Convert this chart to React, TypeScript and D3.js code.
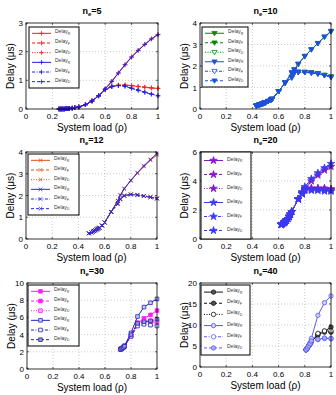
import React from 'react';
import * as d3 from 'd3';

// system load (x) and delays in µs; A = coloured group, B = blue group
const load5 = [0.25, 0.26, 0.27, 0.28, 0.29, 0.3, 0.31, 0.32, 0.33, 0.35, 0.37, 0.4, 0.45, 0.5, 0.55, 0.6, 0.65, 0.7, 0.75, 0.8, 0.85, 0.9, 0.95, 1];
const r5A = [0, 0, 0, 0, 0, 0.01, 0.01, 0.01, 0.02, 0.03, 0.05, 0.07, 0.15, 0.28, 0.46, 0.7, 0.97, 1.26, 1.55, 1.82, 2.05, 2.26, 2.45, 2.6];
const f5A = [0, 0, 0, 0, 0, 0.01, 0.01, 0.01, 0.02, 0.03, 0.05, 0.07, 0.15, 0.28, 0.46, 0.68, 0.8, 0.83, 0.83, 0.82, 0.79, 0.76, 0.73, 0.72];
const d5A = [0, 0, 0, 0, 0, 0.01, 0.01, 0.01, 0.02, 0.03, 0.05, 0.07, 0.15, 0.28, 0.46, 0.68, 0.79, 0.83, 0.84, 0.81, 0.78, 0.76, 0.74, 0.72];
const r5B = [0, 0, 0, 0, 0, 0.01, 0.01, 0.01, 0.02, 0.03, 0.05, 0.07, 0.15, 0.28, 0.46, 0.7, 0.96, 1.25, 1.54, 1.81, 2.04, 2.25, 2.44, 2.59];
const f5B = [0, 0, 0, 0, 0, 0.01, 0.01, 0.01, 0.02, 0.03, 0.05, 0.07, 0.15, 0.28, 0.46, 0.68, 0.78, 0.82, 0.8, 0.73, 0.66, 0.59, 0.52, 0.46];
const d5B = [0, 0, 0, 0, 0, 0.01, 0.01, 0.01, 0.02, 0.03, 0.05, 0.07, 0.15, 0.28, 0.46, 0.68, 0.78, 0.82, 0.79, 0.72, 0.65, 0.58, 0.52, 0.46];

const load10 = [0.43, 0.44, 0.45, 0.46, 0.47, 0.48, 0.49, 0.5, 0.52, 0.54, 0.55, 0.6, 0.65, 0.7, 0.72, 0.75, 0.8, 0.85, 0.9, 0.95, 1];
const r10A = [0.15, 0.17, 0.19, 0.21, 0.23, 0.25, 0.28, 0.3, 0.36, 0.42, 0.46, 0.82, 1.22, 1.68, 1.82, 2.08, 2.45, 2.76, 3.05, 3.35, 3.6];
const f10A = [0.15, 0.17, 0.19, 0.21, 0.23, 0.25, 0.28, 0.3, 0.36, 0.42, 0.46, 0.82, 1.22, 1.5, 1.7, 1.72, 1.72, 1.7, 1.66, 1.58, 1.5];
const d10A = [0.15, 0.17, 0.19, 0.21, 0.23, 0.25, 0.28, 0.3, 0.36, 0.42, 0.46, 0.82, 1.22, 1.48, 1.69, 1.72, 1.71, 1.69, 1.65, 1.57, 1.5];
const r10B = [0.15, 0.17, 0.19, 0.21, 0.23, 0.25, 0.28, 0.3, 0.36, 0.42, 0.46, 0.82, 1.22, 1.7, 1.84, 2.1, 2.46, 2.77, 3.06, 3.36, 3.62];
const f10B = [0.15, 0.17, 0.19, 0.21, 0.23, 0.25, 0.28, 0.3, 0.36, 0.42, 0.46, 0.82, 1.22, 1.45, 1.68, 1.71, 1.71, 1.68, 1.64, 1.57, 1.48];
const d10B = [0.15, 0.17, 0.19, 0.21, 0.23, 0.25, 0.28, 0.3, 0.36, 0.42, 0.46, 0.82, 1.22, 1.46, 1.68, 1.72, 1.7, 1.68, 1.63, 1.56, 1.48];

const load12 = [0.48, 0.5, 0.51, 0.52, 0.53, 0.54, 0.55, 0.56, 0.58, 0.6, 0.65, 0.7, 0.72, 0.75, 0.8, 0.85, 0.9, 0.95, 1];
const r12A = [0.26, 0.3, 0.34, 0.37, 0.4, 0.44, 0.48, 0.52, 0.62, 0.76, 1.25, 1.75, 2.0, 2.3, 2.68, 3.02, 3.33, 3.62, 3.87];
const f12A = [0.26, 0.3, 0.34, 0.37, 0.4, 0.44, 0.48, 0.52, 0.62, 0.76, 1.25, 1.65, 1.85, 2.0, 2.05, 2.03, 1.98, 1.93, 1.87];
const d12A = [0.26, 0.3, 0.34, 0.37, 0.4, 0.44, 0.48, 0.52, 0.62, 0.76, 1.25, 1.66, 1.86, 2.0, 2.06, 2.04, 1.99, 1.94, 1.88];
const r12B = [0.26, 0.3, 0.34, 0.37, 0.4, 0.44, 0.48, 0.52, 0.62, 0.76, 1.25, 1.76, 2.02, 2.32, 2.7, 3.05, 3.37, 3.66, 3.93];
const f12B = [0.26, 0.3, 0.34, 0.37, 0.4, 0.44, 0.48, 0.52, 0.62, 0.76, 1.25, 1.6, 1.82, 1.98, 2.05, 2.02, 1.97, 1.92, 1.86];
const d12B = [0.26, 0.3, 0.34, 0.37, 0.4, 0.44, 0.48, 0.52, 0.62, 0.76, 1.25, 1.62, 1.83, 1.99, 2.04, 2.02, 1.97, 1.91, 1.85];

const load20 = [0.62, 0.63, 0.64, 0.65, 0.66, 0.67, 0.68, 0.69, 0.7, 0.75, 0.78, 0.8, 0.85, 0.9, 0.95, 1];
const r20A = [1.0, 1.05, 1.12, 1.2, 1.3, 1.4, 1.55, 1.7, 1.88, 2.75, 3.2, 3.5, 4.0, 4.4, 4.75, 5.0];
const f20A = [1.0, 1.05, 1.12, 1.2, 1.3, 1.4, 1.55, 1.7, 1.88, 2.75, 3.15, 3.45, 3.5, 3.5, 3.5, 3.45];
const d20A = [1.0, 1.05, 1.12, 1.2, 1.3, 1.4, 1.55, 1.7, 1.88, 2.75, 3.15, 3.42, 3.48, 3.48, 3.47, 3.42];
const r20B = [1.0, 1.05, 1.12, 1.2, 1.3, 1.4, 1.55, 1.7, 1.88, 2.75, 3.25, 3.6, 4.15, 4.55, 4.9, 5.2];
const f20B = [1.0, 1.05, 1.12, 1.2, 1.3, 1.4, 1.55, 1.7, 1.88, 2.75, 3.1, 3.35, 3.35, 3.35, 3.3, 3.3];
const d20B = [1.0, 1.05, 1.12, 1.2, 1.3, 1.4, 1.55, 1.7, 1.88, 2.75, 3.12, 3.38, 3.4, 3.38, 3.35, 3.32];

const load30 = [0.72, 0.73, 0.74, 0.75, 0.8, 0.85, 0.9, 0.95, 1];
const r30A = [2.3, 2.4, 2.5, 2.65, 3.9, 5.3, 5.9, 6.3, 6.8];
const f30A = [2.3, 2.4, 2.5, 2.65, 3.8, 5.2, 5.5, 5.5, 5.4];
const d30A = [2.3, 2.4, 2.5, 2.65, 3.85, 5.4, 5.6, 5.6, 5.5];
const r30B = [2.3, 2.4, 2.55, 2.7, 4.2, 6.1, 7.2, 7.7, 8.15];
const f30B = [2.3, 2.4, 2.5, 2.65, 3.8, 5.0, 5.2, 5.1, 5.0];
const d30B = [2.3, 2.4, 2.5, 2.65, 4.0, 5.3, 5.5, 5.6, 5.8];

const load40 = [0.81, 0.82, 0.83, 0.84, 0.85, 0.9, 0.95, 1];
const r40A = [4.1, 4.5, 5.0, 5.5, 6.0, 7.6, 8.5, 9.5];
const f40A = [4.1, 4.5, 5.0, 5.5, 6.0, 7.8, 8.3, 8.3];
const d40A = [4.1, 4.5, 5.0, 5.5, 6.2, 8.0, 8.6, 8.6];
const r40B = [4.2, 4.6, 5.1, 5.6, 6.8, 12.3, 15.3, 16.9];
const f40B = [4.1, 4.5, 5.0, 5.5, 6.0, 6.5, 6.8, 6.7];
const d40B = [4.1, 4.5, 5.0, 5.5, 6.2, 6.6, 6.9, 6.8];

const xTicks = [0, 0.2, 0.4, 0.6, 0.8, 1];
const legendSubs = ['R', 'F', 'D', 'R', 'F', 'D'];

const FONT = 'Liberation Sans, Arial, Helvetica, sans-serif';
const dashes = ['none', '3,2', '1,1.5', 'none', '3,1.5,1,1.5', '3,2'];

type Marker = 'plus' | 'tri' | 'x' | 'star' | 'square' | 'circle';

function markerPath(kind: Marker, s: number) {
  switch (kind) {
    case 'plus':
      return `M${-s},0H${s}M0,${-s}V${s}`;
    case 'x':
      return `M${-s},${-s}L${s},${s}M${-s},${s}L${s},${-s}`;
    case 'tri':
      return `M${-s},${-s * 0.7}L${s},${-s * 0.7}L0,${s}Z`;
    case 'square':
      return `M${-s},${-s}h${2 * s}v${2 * s}h${-2 * s}Z`;
    case 'star':
      return d3.symbol(d3.symbolStar, s * s * 2.2)() as string;
    default:
      return d3.symbol(d3.symbolCircle, Math.PI * s * s)() as string;
  }
}

interface PanelProps {
  ne: number;
  left: number;
  top: number;
  width: number;
  height: number;
  load: number[];
  series: number[][];
  yMax: number;
  yTicks: number[];
  colorA: string;
  colorB: string;
  marker: Marker;
  size: number;
  fills: (string | null)[];
  legend: { dx: number; dy: number; w: number; h: number };
}

function Panel(p: PanelProps) {
  const x = d3.scaleLinear().domain([0, 1]).range([p.left, p.left + p.width]);
  const y = d3.scaleLinear().domain([0, p.yMax]).range([p.top + p.height, p.top]);
  const line = d3
    .line<number>()
    .x((_, i) => x(p.load[i]))
    .y((d) => y(d));
  const bottom = p.top + p.height;
  const right = p.left + p.width;
  const colorOf = (i: number) => (i < 3 ? p.colorA : p.colorB);
  const fillOf = (i: number) => (p.fills[i] === null ? colorOf(i) : p.fills[i]) as string;

  const lg = p.legend;
  const lx = p.left + lg.dx;
  const ly = p.top + lg.dy;
  const step = (lg.h - 3) / 6;

  return (
    <g>
      {/* grid */}
      {xTicks.slice(1, -1).map((t) => (
        <line key={'gx' + t} x1={x(t)} x2={x(t)} y1={p.top} y2={bottom} stroke="#aaa" strokeWidth={0.6} strokeDasharray="1,2" />
      ))}
      {p.yTicks.slice(1, -1).map((t) => (
        <line key={'gy' + t} x1={p.left} x2={right} y1={y(t)} y2={y(t)} stroke="#aaa" strokeWidth={0.6} strokeDasharray="1,2" />
      ))}

      {/* series */}
      {p.series.map((s, i) => (
        <g key={'s' + i}>
          <path d={line(s) as string} fill="none" stroke={colorOf(i)} strokeWidth={1} strokeDasharray={dashes[i]} />
          {s.map((v, j) => (
            <path
              key={j}
              d={markerPath(p.marker, p.size)}
              transform={`translate(${x(p.load[j])},${y(v)})`}
              fill={p.marker === 'plus' || p.marker === 'x' ? 'none' : fillOf(i)}
              stroke={colorOf(i)}
              strokeWidth={0.8}
            />
          ))}
        </g>
      ))}

      {/* frame and ticks */}
      <rect x={p.left} y={p.top} width={p.width} height={p.height} fill="none" stroke="#000" strokeWidth={0.8} />
      {xTicks.map((t) => (
        <g key={'tx' + t}>
          <line x1={x(t)} x2={x(t)} y1={bottom} y2={bottom - 2} stroke="#000" strokeWidth={0.6} />
          <line x1={x(t)} x2={x(t)} y1={p.top} y2={p.top + 2} stroke="#000" strokeWidth={0.6} />
          <text x={x(t)} y={bottom + 10} fontSize={8} textAnchor="middle" fontFamily={FONT}>
            {String(t)}
          </text>
        </g>
      ))}
      {p.yTicks.map((t) => (
        <g key={'ty' + t}>
          <line x1={p.left} x2={p.left + 2} y1={y(t)} y2={y(t)} stroke="#000" strokeWidth={0.6} />
          <line x1={right} x2={right - 2} y1={y(t)} y2={y(t)} stroke="#000" strokeWidth={0.6} />
          <text x={p.left - 3} y={y(t) + 3} fontSize={8} textAnchor="end" fontFamily={FONT}>
            {String(t)}
          </text>
        </g>
      ))}

      {/* labels */}
      <text x={(p.left + right) / 2} y={p.top - 9} fontSize={9} fontWeight="bold" textAnchor="middle" fontFamily={FONT}>
        n<tspan fontSize={6} dy={2}>e</tspan>
        <tspan dy={-2}>={p.ne}</tspan>
      </text>
      <text x={(p.left + right) / 2} y={bottom + 22} fontSize={10} textAnchor="middle" fontFamily={FONT}>
        System load (ρ)
      </text>
      <text
        transform={`translate(${p.left - 12},${(p.top + bottom) / 2}) rotate(-90)`}
        fontSize={10}
        textAnchor="middle"
        fontFamily={FONT}
      >
        Delay (μs)
      </text>

      {/* legend */}
      <rect x={lx} y={ly} width={lg.w} height={lg.h} fill="#fff" stroke="#000" strokeWidth={1} />
      {legendSubs.map((sub, i) => {
        const cy = ly + 1.5 + step * (i + 0.5);
        return (
          <g key={'l' + i}>
            <line x1={lx + 3} x2={lx + 22} y1={cy} y2={cy} stroke={colorOf(i)} strokeWidth={1} strokeDasharray={dashes[i]} />
            <path
              d={markerPath(p.marker, p.size)}
              transform={`translate(${lx + 12.5},${cy})`}
              fill={p.marker === 'plus' || p.marker === 'x' ? 'none' : fillOf(i)}
              stroke={colorOf(i)}
              strokeWidth={0.8}
            />
            <text x={lx + 26} y={cy} fontSize={5} fill="#333" fontFamily={FONT}>
              Delay<tspan fontSize={3.6} dy={1.5}>{sub}</tspan>
            </text>
          </g>
        );
      })}
    </g>
  );
}

export default function App() {
  const w = 132;
  const h = 86;
  const cols = [26, 200];
  const rows = [23, 152, 283];
  return (
    <svg width={336} height={395} style={{ position: 'absolute', left: 0, top: 0, background: '#fff' }}>
      <Panel
        ne={5}
        left={cols[0]}
        top={rows[0]}
        width={w}
        height={h}
        load={load5}
        series={[r5A, f5A, d5A, r5B, f5B, d5B]}
        yMax={3}
        yTicks={[0, 1, 2, 3]}
        colorA="#ff1a1a"
        colorB="#2020e0"
        marker="plus"
        size={2.3}
        fills={[null, null, null, null, null, null]}
        legend={{ dx: 3, dy: 4, w: 50, h: 61 }}
      />
      <Panel
        ne={10}
        left={cols[1]}
        top={rows[0]}
        width={w - 1}
        height={h}
        load={load10}
        series={[r10A, f10A, d10A, r10B, f10B, d10B]}
        yMax={4}
        yTicks={[0, 1, 2, 3, 4]}
        colorA="#008a00"
        colorB="#1f4fe0"
        marker="tri"
        size={2.6}
        fills={[null, null, '#fff', null, '#fff', null]}
        legend={{ dx: 2, dy: 4, w: 46, h: 60 }}
      />
      <Panel
        ne={12}
        left={cols[0]}
        top={rows[1]}
        width={w - 1}
        height={h + 1}
        load={load12}
        series={[r12A, f12A, d12A, r12B, f12B, d12B]}
        yMax={4}
        yTicks={[0, 1, 2, 3, 4]}
        colorA="#d95319"
        colorB="#2a2ad8"
        marker="x"
        size={1.8}
        fills={[null, null, null, null, null, null]}
        legend={{ dx: 2, dy: 2, w: 51, h: 61 }}
      />
      <Panel
        ne={20}
        left={cols[1]}
        top={rows[1]}
        width={w - 1}
        height={h + 1}
        load={load20}
        series={[r20A, f20A, d20A, r20B, f20B, d20B]}
        yMax={6}
        yTicks={[0, 2, 4, 6]}
        colorA="#8518c8"
        colorB="#3a3af0"
        marker="star"
        size={2.8}
        fills={[null, null, null, null, null, null]}
        legend={{ dx: 1, dy: 0, w: 50, h: 87 }}
      />
      <Panel
        ne={30}
        left={cols[0] + 1}
        top={rows[2]}
        width={w - 2}
        height={h}
        load={load30}
        series={[r30A, f30A, d30A, r30B, f30B, d30B]}
        yMax={10}
        yTicks={[0, 2, 4, 6, 8, 10]}
        colorA="#ff1aff"
        colorB="#2424b8"
        marker="square"
        size={1.8}
        fills={[null, null, '#fbd', '#ccf', '#fff', '#99c']}
        legend={{ dx: 1, dy: 2, w: 51, h: 61 }}
      />
      <Panel
        ne={40}
        left={cols[1]}
        top={rows[2]}
        width={w - 1}
        height={h - 2}
        load={load40}
        series={[r40A, f40A, d40A, r40B, f40B, d40B]}
        yMax={20}
        yTicks={[0, 5, 10, 15, 20]}
        colorA="#111"
        colorB="#5a5af5"
        marker="circle"
        size={2.2}
        fills={['#555', '#555', '#fff', '#ccf', '#fff', '#aaf']}
        legend={{ dx: 1, dy: 2, w: 49, h: 70 }}
      />
    </svg>
  );
}
